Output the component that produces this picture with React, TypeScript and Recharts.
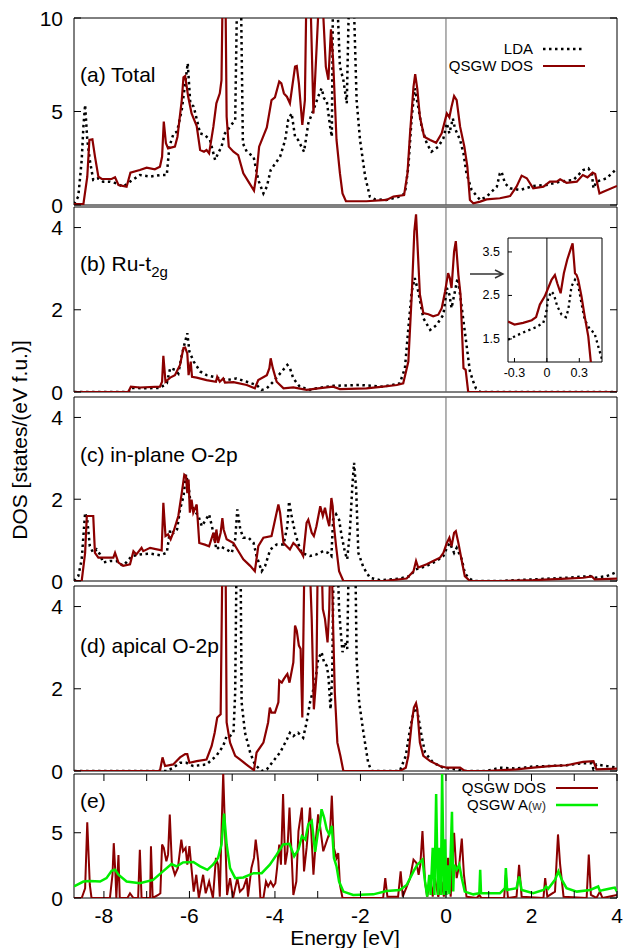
import React from 'react';
import { LineChart, Line, XAxis, YAxis, ReferenceLine, ReferenceArea } from 'recharts';

type Pt = [number, number];

// ---------------- data (energy [eV], DOS) ----------------
const A_LDA: Pt[] = [
  [-8.7,0.05],[-8.6,0.45],[-8.52,2.4],[-8.48,4.2],[-8.44,5.35],[-8.39,3.5],[-8.33,2.4],[-8.25,1.34],[-8.13,1.43],[-8.02,1.25],
  [-7.86,1.25],[-7.71,1.16],[-7.55,0.98],[-7.39,1.25],[-7.16,1.6],[-6.92,1.52],[-6.69,1.6],[-6.53,1.6],[-6.47,3.12],[-6.37,3.83],
  [-6.29,3.92],[-6.18,5.08],[-6.1,6.5],[-6.04,7.58],[-5.98,5.44],[-5.9,5.26],[-5.75,3.83],[-5.64,3.74],[-5.52,3.48],[-5.4,2.41],
  [-5.33,2.76],[-5.25,3.12],[-5.17,3.83],[-5.05,4.19],[-4.93,4.55],[-4.88,12],[-4.8,12],[-4.75,3.3],[-4.66,2.85],[-4.5,2.58],
  [-4.39,1.34],[-4.27,0.62],[-4.19,0.98],[-4.1,1.87],[-3.88,2.58],[-3.76,3.48],[-3.69,4.55],[-3.61,4.9],[-3.53,3.65],[-3.46,3.48],
  [-3.32,2.85],[-3.22,4.37],[-3.1,5.08],[-2.99,5.79],[-2.91,6.24],[-2.85,5.7],[-2.79,5.6],[-2.71,4.19],[-2.67,3.65],[-2.64,12],
  [-2.56,12],[-2.48,7.4],[-2.4,6.68],[-2.32,5.44],[-2.26,12],[-2.17,12],[-2.09,5.6],[-2.01,3.48],[-1.89,1.52],[-1.78,0.45],
  [-1.66,0.3],[-1.39,0.27],[-1.08,0.45],[-0.96,0.62],[-0.88,2.05],[-0.8,4.72],[-0.73,6.24],[-0.65,5.26],[-0.57,4.19],[-0.45,3.3],
  [-0.34,2.85],[-0.18,3.12],[-0.06,3.57],[0.02,4.37],[0.08,3.83],[0.16,4.63],[0.21,4.1],[0.33,3.48],[0.41,2.76],[0.48,1.69],
  [0.6,0.8],[0.8,0.27],[0.95,0.45],[1.19,0.98],[1.26,1.69],[1.3,1.78],[1.38,1.16],[1.5,0.89],[1.73,0.8],[2.04,1.02],
  [2.35,1.07],[2.67,1.25],[2.98,1.34],[3.21,1.87],[3.33,1.96],[3.41,1.69],[3.45,0.89],[3.52,1.25],[3.76,1.43],[4.0,1.96],
];
const A_QSGW: Pt[] = [
  [-8.7,0.05],[-8.48,0.05],[-8.39,1.5],[-8.34,3.48],[-8.27,3.51],[-8.21,2.6],[-8.13,1.52],[-8.05,1.39],[-7.82,1.39],[-7.74,1.48],
  [-7.66,1.07],[-7.47,0.98],[-7.38,1.73],[-7.16,1.87],[-7.0,2.0],[-6.81,1.91],[-6.69,2.05],[-6.64,2.58],[-6.6,4.46],[-6.55,3.3],
  [-6.5,3.03],[-6.34,3.12],[-6.28,3.65],[-6.18,5.6],[-6.14,6.83],[-6.1,6.9],[-6.03,5.8],[-5.95,4.9],[-5.83,4.22],[-5.75,2.94],
  [-5.66,2.85],[-5.6,2.94],[-5.54,2.76],[-5.44,4.19],[-5.37,5.44],[-5.29,5.97],[-5.25,6.68],[-5.22,12],[-5.16,12],[-5.13,4.72],
  [-5.08,3.12],[-4.97,2.85],[-4.86,2.67],[-4.74,1.69],[-4.62,1.25],[-4.49,0.77],[-4.43,1.69],[-4.37,3.12],[-4.19,4.15],[-4.08,5.61],
  [-4.0,5.76],[-3.9,6.6],[-3.85,6.5],[-3.79,5.97],[-3.72,5.79],[-3.65,5.44],[-3.53,7.4],[-3.49,7.43],[-3.44,6.5],[-3.36,4.28],
  [-3.3,5.6],[-3.26,12],[-3.18,12],[-3.1,4.9],[-2.95,12],[-2.91,12],[-2.81,7.4],[-2.75,6.7],[-2.69,9.4],[-2.64,7.75],
  [-2.56,3.48],[-2.48,1.69],[-2.42,0.62],[-2.34,0.2],[-1.86,0.2],[-1.39,0.27],[-1.23,0.45],[-0.98,0.53],[-0.9,1.7],[-0.84,3.83],
  [-0.76,6.3],[-0.72,7.0],[-0.67,6.2],[-0.61,4.72],[-0.51,3.65],[-0.37,3.48],[-0.23,3.33],[-0.1,3.83],[0.02,4.9],[0.08,4.69],
  [0.13,5.26],[0.19,5.83],[0.25,5.61],[0.33,4.19],[0.43,3.12],[0.5,2.05],[0.56,0.27],[0.64,0.09],[0.8,0.18],[0.95,0.3],
  [1.26,0.36],[1.5,0.48],[1.65,0.98],[1.77,1.57],[1.89,1.43],[2.04,0.89],[2.28,0.98],[2.43,1.25],[2.59,1.25],[2.67,1.37],
  [2.82,1.19],[3.06,1.25],[3.2,1.6],[3.31,1.48],[3.43,1.73],[3.49,1.66],[3.59,0.62],[3.68,0.71],[4.0,1.02],
];
const B_LDA: Pt[] = [
  [-8.7,0],[-7.43,0],[-7.35,0.1],[-7.0,0.09],[-6.69,0.1],[-6.53,0.21],[-6.45,0.58],[-6.34,0.54],[-6.26,0.45],[-6.18,0.9],
  [-6.1,1.23],[-6.05,1.43],[-6.0,0.98],[-5.9,0.74],[-5.75,0.5],[-5.6,0.41],[-5.36,0.35],[-5.13,0.29],[-4.9,0.33],[-4.66,0.25],
  [-4.43,0.17],[-4.31,0.05],[-4.19,0.09],[-4.04,0.25],[-3.84,0.5],[-3.71,0.66],[-3.65,0.58],[-3.57,0.33],[-3.42,0.13],[-3.18,0.05],
  [-3.03,0.09],[-2.64,0.15],[-2.01,0.17],[-1.47,0.13],[-1.08,0.21],[-0.96,0.58],[-0.88,1.55],[-0.8,2.45],[-0.73,2.77],[-0.65,2.45],
  [-0.53,1.8],[-0.37,1.51],[-0.22,1.63],[-0.06,1.88],[0.02,2.53],[0.08,2.37],[0.13,2.04],[0.21,2.45],[0.27,2.77],[0.33,2.37],
  [0.41,1.72],[0.48,1.15],[0.56,0.5],[0.64,0.25],[0.7,0.09],[0.8,0],[4,0],
];
const B_QSGW: Pt[] = [
  [-8.7,0],[-7.43,0],[-7.37,0.13],[-7.16,0.11],[-6.69,0.13],[-6.64,0.25],[-6.61,0.88],[-6.56,0.25],[-6.45,0.35],[-6.34,0.41],
  [-6.22,0.66],[-6.14,1.07],[-6.1,1.08],[-6.05,0.94],[-6.02,0.41],[-5.97,0.74],[-5.94,0.37],[-5.83,0.35],[-5.6,0.29],[-5.38,0.25],
  [-5.35,0.37],[-5.29,0.25],[-5.21,0.33],[-5.17,0.23],[-4.97,0.24],[-4.66,0.17],[-4.47,0.09],[-4.39,0.29],[-4.19,0.41],[-4.13,0.58],
  [-4.1,0.82],[-4.05,0.58],[-3.96,0.25],[-3.8,0.09],[-3.57,0.11],[-3.26,0.05],[-2.99,0.09],[-2.64,0.13],[-2.48,0.07],[-1.86,0.09],
  [-1.47,0.13],[-1.15,0.17],[-1.0,0.21],[-0.88,0.74],[-0.8,2.37],[-0.74,3.91],[-0.7,4.32],[-0.67,3.67],[-0.61,2.37],[-0.53,1.92],
  [-0.41,1.89],[-0.3,1.84],[-0.18,1.88],[-0.1,2.04],[-0.02,2.45],[0.05,2.89],[0.09,2.77],[0.13,2.53],[0.19,3.42],[0.23,3.67],
  [0.29,2.85],[0.34,2.37],[0.41,0.58],[0.46,0.54],[0.52,0],[4,0],
];
const C_LDA: Pt[] = [
  [-8.7,0],[-8.6,0.12],[-8.52,0.53],[-8.44,1.67],[-8.39,1.5],[-8.33,0.85],[-8.25,0.69],[-8.17,0.77],[-8.09,0.65],[-8.02,0.45],
  [-7.86,0.49],[-7.71,0.49],[-7.55,0.37],[-7.35,0.61],[-7.16,0.65],[-6.92,0.67],[-6.69,0.63],[-6.53,0.69],[-6.45,1.26],[-6.37,1.18],
  [-6.29,1.26],[-6.22,1.75],[-6.14,2.07],[-6.08,2.6],[-6.02,2.32],[-5.98,1.95],[-5.9,1.75],[-5.79,1.59],[-5.71,1.34],[-5.64,1.46],
  [-5.54,1.63],[-5.44,1.18],[-5.37,0.77],[-5.29,0.85],[-5.13,0.77],[-5.01,0.69],[-4.93,1.02],[-4.88,1.75],[-4.81,1.26],[-4.74,1.06],
  [-4.62,1.06],[-4.5,0.93],[-4.43,0.61],[-4.31,0.24],[-4.23,0.37],[-4.11,0.77],[-3.96,0.89],[-3.8,0.89],[-3.71,1.34],[-3.67,1.95],
  [-3.61,1.59],[-3.53,1.18],[-3.46,0.93],[-3.38,0.69],[-3.18,0.61],[-3.03,0.65],[-2.87,0.73],[-2.76,0.69],[-2.68,0.61],[-2.64,1.5],
  [-2.57,1.63],[-2.5,1.5],[-2.44,1.1],[-2.36,0.69],[-2.31,0.53],[-2.25,1.18],[-2.19,2.32],[-2.15,2.89],[-2.1,2.24],[-2.05,0.69],
  [-1.93,0.33],[-1.78,0.08],[-1.54,0.02],[-1.08,0.06],[-0.84,0.12],[-0.72,0.28],[-0.45,0.37],[-0.22,0.49],[-0.06,0.61],[0.02,0.81],
  [0.09,0.93],[0.19,0.69],[0.25,0.81],[0.37,0.53],[0.44,0.2],[0.52,0.08],[0.64,0],[1.26,0],[2.04,0.04],[2.82,0.08],
  [3.37,0.12],[3.48,0.08],[3.76,0.12],[3.95,0.2],[4,0.2],
];
const C_QSGW: Pt[] = [
  [-8.7,0],[-8.52,0],[-8.44,0.69],[-8.4,1.59],[-8.25,1.59],[-8.21,0.69],[-8.13,0.57],[-7.78,0.57],[-7.74,0.69],[-7.66,0.45],
  [-7.55,0.37],[-7.39,0.41],[-7.31,0.73],[-7.24,0.65],[-7.12,0.81],[-7.08,0.73],[-6.92,0.81],[-6.65,0.75],[-6.61,1.91],[-6.56,1.1],
  [-6.5,1.14],[-6.44,1.02],[-6.38,1.18],[-6.26,1.59],[-6.18,2.15],[-6.12,2.6],[-6.08,2.56],[-6.05,2.15],[-6.02,2.48],[-5.99,1.67],
  [-5.95,1.99],[-5.91,1.67],[-5.83,1.87],[-5.77,0.93],[-5.64,0.89],[-5.54,0.85],[-5.44,1.18],[-5.4,0.93],[-5.37,1.26],[-5.33,0.93],
  [-5.27,1.18],[-5.23,1.54],[-5.2,1.26],[-5.13,1.02],[-4.97,0.93],[-4.88,0.77],[-4.74,0.53],[-4.58,0.37],[-4.47,0.24],[-4.39,0.85],
  [-4.27,1.06],[-4.08,1.1],[-3.92,1.87],[-3.88,1.67],[-3.8,0.93],[-3.65,0.77],[-3.57,0.93],[-3.49,0.85],[-3.38,0.69],[-3.34,0.61],
  [-3.26,1.42],[-3.22,1.5],[-3.14,1.18],[-3.09,1.1],[-3.03,1.34],[-2.94,1.83],[-2.88,1.59],[-2.83,1.79],[-2.77,1.5],[-2.73,1.34],
  [-2.68,2.03],[-2.65,1.83],[-2.62,1.34],[-2.57,0.85],[-2.5,0.24],[-2.4,0],[-1.47,0],[-0.92,0.06],[-0.76,0.24],[-0.7,0.49],
  [-0.65,0.33],[-0.45,0.41],[-0.3,0.49],[-0.14,0.57],[-0.06,0.69],[0.02,0.93],[0.08,1.06],[0.13,0.85],[0.19,1.18],[0.23,1.22],
  [0.29,0.93],[0.37,0.49],[0.44,0.12],[0.56,0],[1.26,0],[2.04,0.02],[2.82,0.06],[3.21,0.08],[3.41,0.11],[3.48,0.04],[4,0.06],
];
const D_LDA: Pt[] = [
  [-8.7,0],[-6.53,0],[-6.38,0.08],[-6.22,0.2],[-6.07,0.2],[-5.91,0.12],[-5.6,0.16],[-5.37,0.37],[-5.21,0.61],[-5.13,0.85],
  [-5.05,0.85],[-4.97,0.93],[-4.93,1.91],[-4.89,6],[-4.81,6],[-4.78,1.67],[-4.7,0.93],[-4.58,0.45],[-4.47,0.16],[-4.31,0],
  [-4.19,0.04],[-4.04,0.24],[-3.88,0.45],[-3.72,0.77],[-3.65,0.93],[-3.57,0.85],[-3.46,0.93],[-3.34,0.81],[-3.26,1.18],[-3.18,1.67],
  [-3.06,2.15],[-2.99,2.72],[-2.91,2.89],[-2.85,2.64],[-2.79,2.56],[-2.75,2.32],[-2.7,1.5],[-2.66,2.32],[-2.62,6],[-2.56,6],
  [-2.5,3.94],[-2.46,3.37],[-2.42,2.89],[-2.36,3.13],[-2.31,2.97],[-2.26,6],[-2.13,6],[-2.09,2.72],[-2.03,1.67],[-1.93,0.93],
  [-1.82,0.2],[-1.74,0],[-1.08,0],[-0.94,0.37],[-0.84,1.02],[-0.76,1.42],[-0.7,1.54],[-0.65,1.34],[-0.57,0.85],[-0.49,0.45],
  [-0.3,0.2],[-0.06,0.08],[0.25,0.04],[0.48,0],[0.95,0],[1.26,0.08],[1.65,0.06],[2.04,0.11],[2.43,0.12],[2.82,0.14],
  [3.21,0.19],[3.41,0.19],[3.45,0.04],[3.52,0.16],[4,0.08],
];
const D_QSGW: Pt[] = [
  [-8.7,0],[-6.69,0],[-6.63,0.33],[-6.57,0.12],[-6.38,0.16],[-6.22,0.33],[-6.1,0.41],[-6.05,0.41],[-6.0,0.2],[-5.83,0.24],
  [-5.6,0.28],[-5.48,0.61],[-5.41,0.93],[-5.35,1.3],[-5.27,1.38],[-5.22,6],[-5.16,6],[-5.13,1.18],[-5.05,0.69],[-4.93,0.37],
  [-4.82,0.28],[-4.62,0.12],[-4.49,0.02],[-4.43,0.45],[-4.27,0.69],[-4.16,1.18],[-4.12,1.54],[-4.08,1.42],[-4.0,1.42],[-3.92,1.67],
  [-3.9,2.2],[-3.84,2.15],[-3.79,2.24],[-3.74,2.32],[-3.71,2.36],[-3.66,2.15],[-3.57,2.64],[-3.53,3.54],[-3.49,3.41],[-3.44,3.05],
  [-3.4,2.97],[-3.36,1.3],[-3.3,6],[-3.22,6],[-3.14,3.7],[-3.09,1.5],[-3.03,2.32],[-2.99,6],[-2.93,6],[-2.88,3.94],
  [-2.83,3.7],[-2.77,3.13],[-2.73,3.94],[-2.69,6],[-2.64,3.54],[-2.6,1.91],[-2.54,0.69],[-2.47,0.37],[-2.4,0],[-1.08,0],
  [-0.94,0.08],[-0.88,0.37],[-0.8,1.18],[-0.75,1.54],[-0.7,1.65],[-0.67,1.5],[-0.61,0.69],[-0.53,0.37],[-0.37,0.24],[-0.14,0.12],
  [0.02,0.08],[0.33,0.08],[0.44,0],[0.95,0],[1.65,0.04],[2.04,0.08],[2.43,0.12],[2.82,0.14],[3.21,0.22],[3.45,0.24],[3.52,0.04],[4,0.06],
];
const E_DOS: Pt[] = [
  [-8.7,0],[-8.52,0],[-8.44,0.75],[-8.39,5.8],[-8.33,1.0],[-8.29,0],[-7.86,0],[-7.8,1.78],[-7.77,4.2],[-7.73,1.78],
  [-7.71,0],[-7.66,3.3],[-7.63,0],[-7.45,0],[-7.39,0.36],[-7.31,0],[-7.2,0],[-7.16,3.7],[-7.12,0],[-6.92,0],
  [-6.9,3.97],[-6.86,0],[-6.73,0.23],[-6.68,0.36],[-6.64,4.1],[-6.6,3.84],[-6.54,2.81],[-6.5,3.32],[-6.46,6.4],[-6.41,2.55],
  [-6.34,1.78],[-6.27,2.3],[-6.19,4.48],[-6.15,3.58],[-6.09,3.84],[-6.05,2.55],[-6.0,3.97],[-5.96,2.55],[-5.9,0.49],[-5.84,1.78],
  [-5.78,0],[-5.68,1.78],[-5.62,0.36],[-5.54,1.26],[-5.45,0],[-5.38,3.07],[-5.33,2.55],[-5.29,0.1],[-5.25,5.13],[-5.21,9.6],
  [-5.16,4.36],[-5.12,0.23],[-5.05,1.52],[-4.98,0],[-4.88,1.52],[-4.82,0.49],[-4.74,0.75],[-4.66,1.52],[-4.63,0.1],[-4.55,2.3],
  [-4.49,3.07],[-4.45,4.48],[-4.39,2.81],[-4.34,0],[-4.27,0],[-4.21,1.26],[-4.16,0.88],[-4.1,1.26],[-4.04,0.88],[-3.99,1.13],
  [-3.95,2.3],[-3.9,4.1],[-3.86,2.55],[-3.81,7.96],[-3.76,2.55],[-3.71,3.58],[-3.66,6.93],[-3.6,2.55],[-3.57,0.23],[-3.5,1.26],
  [-3.45,5.13],[-3.37,6.93],[-3.32,2.04],[-3.26,3.84],[-3.18,6.93],[-3.1,1.78],[-3.04,4.6],[-2.99,6.4],[-2.95,5.64],[-2.87,3.58],
  [-2.79,4.36],[-2.71,5.13],[-2.67,7.84],[-2.62,3.84],[-2.56,3.07],[-2.52,3.45],[-2.48,1.0],[-2.42,0],[-1.47,0],[-1.42,1.52],
  [-1.37,0.1],[-1.12,0.1],[-1.06,2.04],[-1.01,0.1],[-0.84,1.52],[-0.76,2.94],[-0.69,2.68],[-0.64,1.78],[-0.6,2.55],[-0.55,5.13],
  [-0.49,1.26],[-0.44,0.1],[-0.36,1.52],[-0.31,0.1],[-0.26,1.52],[-0.18,0.1],[-0.1,1.26],[-0.05,0.1],[0.05,3.07],[0.11,0.1],
  [0.19,5.0],[0.25,1.52],[0.31,2.55],[0.37,4.56],[0.42,1.78],[0.48,0.1],[0.72,0],[0.78,0.23],[0.83,0],[1.36,0],
  [1.4,1.78],[1.45,0],[1.65,0.1],[1.71,2.55],[1.77,0.1],[2.28,0],[2.32,1.52],[2.37,0.1],[2.55,0.49],[2.62,4.87],
  [2.67,2.55],[2.75,0.1],[3.29,0],[3.34,3.32],[3.39,0.23],[3.52,0],[3.6,0.49],[3.66,0],[4,0.23],
];
const E_AW: Pt[] = [
  [-8.7,0.88],[-8.48,1.26],[-8.33,1.31],[-8.09,1.26],[-7.94,1.52],[-7.82,2.09],[-7.74,2.16],[-7.66,1.78],[-7.47,1.26],[-7.16,1.13],
  [-6.85,1.39],[-6.62,2.04],[-6.42,2.6],[-6.3,2.42],[-6.15,2.73],[-5.91,2.76],[-5.75,2.42],[-5.58,2.16],[-5.45,2.55],[-5.33,3.07],
  [-5.25,4.1],[-5.19,6.47],[-5.13,4.1],[-5.05,2.29],[-4.93,1.52],[-4.74,1.57],[-4.5,1.9],[-4.31,1.9],[-4.12,2.55],[-3.96,3.32],
  [-3.81,4.1],[-3.66,4.15],[-3.55,3.2],[-3.45,3.71],[-3.37,4.74],[-3.29,4.48],[-3.22,5.64],[-3.14,5.9],[-3.06,3.53],[-2.99,5.13],
  [-2.96,5.26],[-2.91,6.8],[-2.85,6.16],[-2.79,5.26],[-2.73,4.87],[-2.67,5.52],[-2.62,3.07],[-2.56,2.42],[-2.5,1.26],[-2.4,0.49],
  [-2.17,0.23],[-1.7,0.28],[-1.39,0.54],[-1.08,0.62],[-0.92,1.0],[-0.76,2.04],[-0.67,2.55],[-0.59,2.81],[-0.55,2.94],[-0.49,1.26],
  [-0.44,0.1],[-0.39,1.78],[-0.36,0.23],[-0.31,3.84],[-0.27,0.23],[-0.23,7.96],[-0.19,0.23],[-0.16,3.84],[-0.12,0.23],[-0.09,9.6],
  [-0.05,0.23],[-0.02,4.5],[0.01,0.23],[0.05,2.5],[0.08,0.3],[0.14,6.6],[0.17,0.5],[0.19,2.55],[0.25,2.16],[0.31,2.55],
  [0.37,1.52],[0.44,0.49],[0.64,0.28],[0.78,0.36],[0.8,2.16],[0.82,0.36],[1.26,0.36],[1.38,0.75],[1.4,2.29],[1.43,0.62],
  [1.65,0.75],[1.71,1.65],[1.77,0.62],[2.04,0.36],[2.28,0.62],[2.34,0.88],[2.39,0.7],[2.55,1.39],[2.63,2.04],[2.71,1.39],
  [2.82,0.75],[3.06,0.49],[3.37,0.62],[3.56,0.88],[3.6,0.54],[3.68,0.62],[3.87,0.75],[3.95,0.8],[4,0.49],
];
const INSET_QSGW: Pt[] = [
  [-0.36,1.9],[-0.3,1.83],[-0.22,1.87],[-0.14,1.93],[-0.1,2.0],[-0.065,2.29],[-0.02,2.48],[0.012,2.67],[0.043,2.86],[0.074,2.97],
  [0.096,2.78],[0.127,2.55],[0.157,3.01],[0.188,3.32],[0.222,3.58],[0.238,3.7],[0.26,3.01],[0.275,2.97],[0.29,2.86],[0.32,2.48],
  [0.35,2.02],[0.383,1.56],[0.404,1.03],[0.41,0.9],
];
const INSET_LDA: Pt[] = [
  [-0.36,1.48],[-0.28,1.58],[-0.19,1.68],[-0.1,1.77],[-0.034,1.87],[-0.009,2.06],[0.012,2.44],[0.043,2.59],[0.065,2.52],[0.096,2.25],
  [0.136,2.06],[0.176,2.0],[0.198,2.17],[0.228,2.71],[0.26,2.86],[0.29,2.74],[0.32,2.32],[0.35,1.94],[0.4,1.71],[0.44,1.64],
  [0.475,1.33],[0.506,1.07],[0.52,0.9],
];

const X_TICKS = [-8, -7, -6, -5, -4, -3, -2, -1, 0, 1, 2, 3, 4];
const X_LABELS = [-8, -6, -4, -2, 0, 2, 4];
const Y_TICKS_A = [0, 5, 10];
const Y_TICKS_BCD = [0, 2, 4];
const Y_TICKS_E = [0, 5];
const INSET_X_TICKS = [-0.3, 0, 0.3];
const INSET_Y_TICKS = [1.5, 2.5, 3.5];

// ---------------- styling ----------------
const FONT = '"Liberation Sans", Arial, Helvetica, sans-serif';
const RED = '#8b0000';
const GREEN = '#00ee00';
const X_MIN = -8.7;
const X_MAX = 4;
const PLOT_W = 543;
const MV = 14;
const DOTS = '2.5 3.5';

const toData = (pts: Pt[]) => pts.map(([x, y]) => ({ x, y }));

type Series = { pts: Pt[]; color: string; dashed?: boolean; width: number };

function Panel(props: { top: number; h: number; yMax: number; yTicks: number[]; series: Series[]; xLabels?: boolean }) {
  const { top, h, yMax, yTicks, series, xLabels } = props;
  const xTick = (p: any) => {
    const { x, y, payload } = p;
    const v = payload.value;
    return (
      <g>
        <line x1={x} x2={x} y1={y} y2={y - 7} stroke="#000" strokeWidth={1} />
        <line x1={x} x2={x} y1={y - h} y2={y - h + 7} stroke="#000" strokeWidth={1} />
        {xLabels && X_LABELS.includes(v) ? (
          <text x={x} y={y + 17} textAnchor="middle" dominantBaseline="central" fontSize={21} fontFamily={FONT} fill="#000">
            {String(v)}
          </text>
        ) : null}
      </g>
    );
  };
  const yTick = (p: any) => {
    const { x, y, payload } = p;
    return (
      <g>
        <line x1={x} x2={x + 7} y1={y} y2={y} stroke="#000" strokeWidth={1} />
        <line x1={x + PLOT_W} x2={x + PLOT_W - 7} y1={y} y2={y} stroke="#000" strokeWidth={1} />
        <text x={x - 11} y={y} textAnchor="end" dominantBaseline="central" fontSize={21} fontFamily={FONT} fill="#000">
          {String(payload.value)}
        </text>
      </g>
    );
  };
  const bottomH = xLabels ? 50 : 0;
  return (
    <div style={{ position: 'absolute', left: 0, top: top - MV }}>
      <LineChart
        width={626}
        height={MV + h + (xLabels ? bottomH : MV)}
        margin={{ top: MV, right: 9, bottom: xLabels ? 0 : MV, left: 0 }}
      >
        <XAxis
          type="number"
          dataKey="x"
          domain={[X_MIN, X_MAX]}
          ticks={X_TICKS}
          interval={0}
          allowDataOverflow
          tickSize={0}
          tickMargin={0}
          tickLine={false}
          axisLine={false}
          height={bottomH}
          tick={xTick}
        />
        <YAxis
          type="number"
          domain={[0, yMax]}
          ticks={yTicks}
          interval={0}
          allowDataOverflow
          tickSize={0}
          tickMargin={0}
          tickLine={false}
          axisLine={false}
          width={74}
          tick={yTick}
        />
        <ReferenceLine x={0} stroke="#666" strokeWidth={1} />
        {series.map((s, i) => (
          <Line
            key={i}
            data={toData(s.pts)}
            dataKey="y"
            type="linear"
            stroke={s.color}
            strokeWidth={s.width}
            strokeDasharray={s.dashed ? DOTS : undefined}
            dot={false}
            activeDot={false}
            isAnimationActive={false}
          />
        ))}
        <ReferenceArea x1={X_MIN} x2={X_MAX} y1={0} y2={yMax} fill="none" fillOpacity={0} stroke="#000" strokeWidth={1} ifOverflow="visible" />
      </LineChart>
    </div>
  );
}

function Inset() {
  const w = 94;
  const h = 124;
  const xTick = (p: any) => {
    const { x, y, payload } = p;
    return (
      <g>
        <line x1={x} x2={x} y1={y} y2={y - 4} stroke="#000" strokeWidth={1} />
        <text x={x} y={y + 11} textAnchor="middle" dominantBaseline="central" fontSize={12.5} fontFamily={FONT} fill="#000">
          {String(payload.value)}
        </text>
      </g>
    );
  };
  const yTick = (p: any) => {
    const { x, y, payload } = p;
    return (
      <g>
        <line x1={x} x2={x + 4} y1={y} y2={y} stroke="#000" strokeWidth={1} />
        <text x={x - 8} y={y} textAnchor="end" dominantBaseline="central" fontSize={12.5} fontFamily={FONT} fill="#000">
          {String(payload.value)}
        </text>
      </g>
    );
  };
  return (
    <div style={{ position: 'absolute', left: 470, top: 238 - 8 }}>
      <LineChart width={38 + w + 6} height={8 + h + 22} margin={{ top: 8, right: 6, bottom: 0, left: 0 }}>
        <XAxis
          type="number"
          dataKey="x"
          domain={[-0.36, 0.51]}
          ticks={INSET_X_TICKS}
          interval={0}
          allowDataOverflow
          tickSize={0}
          tickMargin={0}
          tickLine={false}
          axisLine={false}
          height={22}
          tick={xTick}
        />
        <YAxis
          type="number"
          domain={[0.97, 3.82]}
          ticks={INSET_Y_TICKS}
          interval={0}
          allowDataOverflow
          tickSize={0}
          tickMargin={0}
          tickLine={false}
          axisLine={false}
          width={38}
          tick={yTick}
        />
        <ReferenceArea x1={-0.36} x2={0.51} y1={0.97} y2={3.82} fill="#fff" fillOpacity={1} stroke="none" ifOverflow="visible" />
        <ReferenceLine x={0} stroke="#000" strokeWidth={1} />
        <Line data={toData(INSET_LDA)} dataKey="y" type="linear" stroke="#000" strokeWidth={2.3} strokeDasharray="2.3 3.3" dot={false} activeDot={false} isAnimationActive={false} />
        <Line data={toData(INSET_QSGW)} dataKey="y" type="linear" stroke={RED} strokeWidth={2.2} dot={false} activeDot={false} isAnimationActive={false} />
        <ReferenceArea x1={-0.36} x2={0.51} y1={0.97} y2={3.82} fill="none" fillOpacity={0} stroke="#000" strokeWidth={1} ifOverflow="visible" />
      </LineChart>
    </div>
  );
}

const textBase: React.CSSProperties = {
  position: 'absolute',
  fontFamily: FONT,
  color: '#000',
  whiteSpace: 'nowrap',
};

function PanelLabel({ y, children }: { y: number; children: React.ReactNode }) {
  return <div style={{ ...textBase, left: 80, top: y - 10.5, fontSize: 21, lineHeight: '21px' }}>{children}</div>;
}

function LegendRow({ right, y, label, color, dashed, lineFrom, lineTo, width }: any) {
  return (
    <>
      <div style={{ ...textBase, left: right - 200, width: 200, textAlign: 'right', top: y - 7, fontSize: 15, lineHeight: '14px' }}>{label}</div>
      <svg style={{ position: 'absolute', left: lineFrom, top: y - 4 }} width={lineTo - lineFrom} height={8}>
        <line x1={0} x2={lineTo - lineFrom} y1={4} y2={4} stroke={color} strokeWidth={width} strokeDasharray={dashed ? DOTS : undefined} />
      </svg>
    </>
  );
}

export default function App() {
  return (
    <div style={{ position: 'absolute', left: 0, top: 0, width: 626, height: 948, background: '#fff', overflow: 'hidden' }}>
      <Panel top={18} h={187} yMax={10} yTicks={Y_TICKS_A} series={[
        { pts: A_LDA, color: '#000', dashed: true, width: 2.5 },
        { pts: A_QSGW, color: RED, width: 2.2 },
      ]} />
      <Panel top={207} h={185} yMax={4.5} yTicks={Y_TICKS_BCD} series={[
        { pts: B_LDA, color: '#000', dashed: true, width: 2.5 },
        { pts: B_QSGW, color: RED, width: 2.2 },
      ]} />
      <Panel top={397} h={184} yMax={4.5} yTicks={Y_TICKS_BCD} series={[
        { pts: C_LDA, color: '#000', dashed: true, width: 2.5 },
        { pts: C_QSGW, color: RED, width: 2.2 },
      ]} />
      <Panel top={586} h={185} yMax={4.5} yTicks={Y_TICKS_BCD} series={[
        { pts: D_LDA, color: '#000', dashed: true, width: 2.5 },
        { pts: D_QSGW, color: RED, width: 2.2 },
      ]} />
      <Panel top={774} h={124} yMax={9.5} yTicks={Y_TICKS_E} xLabels series={[
        { pts: E_DOS, color: RED, width: 2 },
        { pts: E_AW, color: GREEN, width: 2.5 },
      ]} />

      <Inset />
      <svg style={{ position: 'absolute', left: 466, top: 266 }} width={40} height={16}>
        <path d="M4 8 L37 8 M29 4 L37 8 L29 12" stroke="#333" strokeWidth={1.4} fill="none" />
      </svg>

      <PanelLabel y={74}>(a) Total</PanelLabel>
      <PanelLabel y={263}>
        (b) Ru-t<span style={{ fontSize: 15, position: 'relative', top: 6 }}>2g</span>
      </PanelLabel>
      <PanelLabel y={454}>(c) in-plane O-2p</PanelLabel>
      <PanelLabel y={645}>(d) apical O-2p</PanelLabel>
      <PanelLabel y={800}>(e)</PanelLabel>

      <LegendRow right={533} y={49} label="LDA" color="#000" dashed lineFrom={543} lineTo={585} width={2.5} />
      <LegendRow right={533} y={66} label="QSGW DOS" color={RED} lineFrom={543} lineTo={585} width={2.2} />
      <LegendRow right={546} y={788} label="QSGW DOS" color={RED} lineFrom={556} lineTo={598} width={2.2} />
      <LegendRow
        right={546}
        y={805}
        label={<span>QSGW A<span style={{ fontSize: 13, color: '#333' }}>(w)</span></span>}
        color={GREEN}
        lineFrom={556}
        lineTo={598}
        width={2.5}
      />

      <div style={{ ...textBase, left: 245, width: 200, textAlign: 'center', top: 928, fontSize: 21, lineHeight: '20px' }}>Energy [eV]</div>
      <div
        style={{
          ...textBase,
          left: 20 - 150,
          top: 440 - 12,
          width: 300,
          height: 24,
          lineHeight: '24px',
          textAlign: 'center',
          fontSize: 21,
          transform: 'rotate(-90deg)',
        }}
      >
        DOS [states/(eV f.u.)]
      </div>
    </div>
  );
}
